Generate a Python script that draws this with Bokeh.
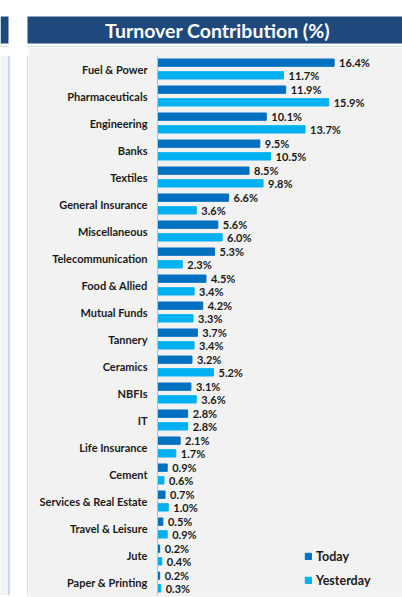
from bokeh.plotting import figure
from bokeh.models import FactorRange, Range1d, ColumnDataSource, Legend, LegendItem
from bokeh.layouts import column, row
from bokeh.transform import dodge
from bokeh.core.properties import value
from bokeh.embed import file_html
from bokeh.resources import INLINE

title = "Turnover Contribution (%)"
sectors = ["Fuel & Power", "Pharmaceuticals", "Engineering", "Banks", "Textiles",
           "General Insurance", "Miscellaneous", "Telecommunication", "Food & Allied",
           "Mutual Funds", "Tannery", "Ceramics", "NBFIs", "IT", "Life Insurance",
           "Cement", "Services & Real Estate", "Travel & Leisure", "Jute",
           "Paper & Printing"]
today = [16.4, 11.9, 10.1, 9.5, 8.5, 6.6, 5.6, 5.3, 4.5, 4.2, 3.7, 3.2, 3.1, 2.8,
         2.1, 0.9, 0.7, 0.5, 0.2, 0.2]
yesterday = [11.7, 15.9, 13.7, 10.5, 9.8, 3.6, 6.0, 2.3, 3.4, 3.3, 3.4, 5.2, 3.6,
             2.8, 1.7, 0.6, 1.0, 0.9, 0.4, 0.3]
series_names = ["Today", "Yesterday"]

FONT = "Lato"
C_TODAY = "#0070C0"
C_YEST = "#00B0F0"
C_HEAD = "#1F497D"
C_PANEL = "#F2F2F2"
C_BORDER = "#9DB9DD"
TXT = "#1A1A1A"


def blank(w, h, xr, yr):
    f = figure(width=w, height=h, x_range=xr, y_range=yr, output_backend="svg",
               toolbar_location=None, x_axis_location=None, y_axis_location=None,
               min_border=0, outline_line_color=None,
               background_fill_color="white", border_fill_color="white")
    f.grid.visible = False
    return f


# ---- header strip (page y 0..47)
head = blank(402, 47, Range1d(0, 402), Range1d(47, 0))
head.quad(left=[0, 27], right=[8, 402], top=[16, 16], bottom=[43, 43],
          color=C_HEAD, line_color=None)
head.segment(x0=[0, 27], x1=[8, 402], y0=[46.5, 46.5], y1=[46.5, 46.5],
             line_color=C_BORDER, line_width=1)
head.text(x=[217], y=[30], text=[title], text_align="center", text_baseline="middle",
          text_font=value(FONT), text_font_style="bold", text_font_size="19.5px",
          text_color="white")

# ---- left margin strip (page x 0..28)
strip = blank(28, 550, Range1d(0, 28), Range1d(0, 550))
strip.quad(left=[0], right=[8], top=[550], bottom=[0], color=C_PANEL, line_color=None)
strip.segment(x0=[8.5, 27.5], x1=[8.5, 27.5], y0=[0, 0], y1=[550, 550],
              line_color=C_BORDER, line_width=1)

# ---- main chart
src = ColumnDataSource(dict(
    sector=sectors, today=today, yesterday=yesterday,
    today_lbl=[f"{v:.1f}%" for v in today],
    yest_lbl=[f"{v:.1f}%" for v in yesterday],
))

y_range = FactorRange(factors=list(reversed(sectors)), range_padding=0)
p = figure(width=374, height=550, y_range=y_range, x_range=Range1d(0, 22.75),
           output_backend="svg", toolbar_location=None,
           min_border_left=129, min_border_right=0, min_border_top=8,
           min_border_bottom=2, background_fill_color=C_PANEL,
           border_fill_color=C_PANEL, outline_line_color=None)

p.xaxis.visible = False
p.xgrid.visible = False
p.ygrid.visible = False
ax = p.yaxis[0]
ax.major_tick_line_color = None
ax.minor_tick_line_color = None
ax.axis_line_color = "#BFBFBF"
ax.major_label_text_font = FONT
ax.major_label_text_font_style = "bold"
ax.major_label_text_font_size = "11px"
ax.major_label_text_color = TXT
ax.major_label_standoff = 4

r_today = p.hbar(y=dodge("sector", 0.235, range=y_range), right="today", left=0,
                 height=0.27, color=C_TODAY, source=src)
r_yest = p.hbar(y=dodge("sector", -0.235, range=y_range), right="yesterday", left=0,
                height=0.27, color=C_YEST, source=src)

for col, lbl, off in (("today", "today_lbl", 0.235), ("yesterday", "yest_lbl", -0.235)):
    p.text(x=col, y=dodge("sector", off, range=y_range), text=lbl, source=src,
           x_offset=5, text_baseline="middle", text_align="left",
           text_font=value(FONT), text_font_style="bold", text_font_size="11px",
           text_color=TXT)

legend = Legend(items=[LegendItem(label=series_names[0], renderers=[r_today]),
                       LegendItem(label=series_names[1], renderers=[r_yest])],
                location=(147, 5), orientation="vertical",
                background_fill_alpha=0, border_line_color=None,
                padding=0, margin=0, spacing=4, label_height=20,
                glyph_width=8, glyph_height=8, label_standoff=4,
                label_text_font=FONT, label_text_font_style="bold",
                label_text_font_size="12.5px", label_text_color=TXT)
p.add_layout(legend)

layout = column(head, row(strip, p))
open("out.html", "w").write(file_html(layout, INLINE))
